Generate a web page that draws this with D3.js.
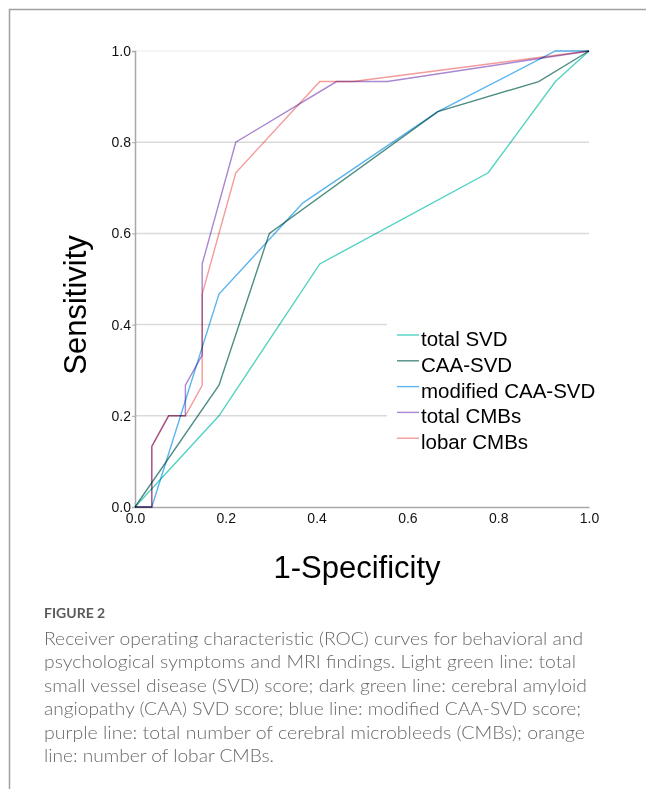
<!DOCTYPE html>
<html>
<head>
<meta charset="utf-8">
<script src="https://cdn.jsdelivr.net/npm/d3@7"></script>
<style>
  body { margin: 0; background: #fff; }
  svg { display: block; }
  .curve { mix-blend-mode: multiply; }
</style>
</head>
<body>
<div class="paint"></div>
<script>
// series names and colours, legend order
var seriesNames = ["total SVD", "CAA-SVD", "modified CAA-SVD", "total CMBs", "lobar CMBs"];
var seriesColors = ["#52d3c3", "#4f8e84", "#5bb5ee", "#a987d2", "#f59b9b"];

// ROC points: [1-specificity, sensitivity]
var totalSVD = [[0, 0], [0.185, 0.2], [0.407, 0.533], [0.778, 0.733], [0.926, 0.933], [1, 1]];
var caaSVD = [[0, 0], [0.185, 0.267], [0.296, 0.6], [0.667, 0.867], [0.889, 0.933], [1, 1]];
var modCaaSVD = [[0, 0], [0.037, 0], [0.185, 0.467], [0.37, 0.667], [0.667, 0.867], [0.926, 1], [1, 1]];
var totalCMBs = [[0, 0], [0.037, 0], [0.037, 0.133], [0.074, 0.2], [0.111, 0.2], [0.111, 0.267],
  [0.148, 0.333], [0.148, 0.533], [0.222, 0.8], [0.444, 0.933], [0.556, 0.933], [1, 1]];
var lobarCMBs = [[0, 0], [0.037, 0], [0.037, 0.133], [0.074, 0.2], [0.111, 0.2], [0.148, 0.267],
  [0.148, 0.467], [0.222, 0.733], [0.407, 0.933], [0.481, 0.933], [1, 1]];

var tickValues = [0, 0.2, 0.4, 0.6, 0.8, 1.0];
var gridValues = [0.2, 0.4, 0.6, 0.8, 1.0];

var captionTitle = "FIGURE 2";
var captionLines = [
  "Receiver operating characteristic (ROC) curves for behavioral and",
  "psychological symptoms and MRI findings. Light green line: total",
  "small vessel disease (SVD) score; dark green line: cerebral amyloid",
  "angiopathy (CAA) SVD score; blue line: modified CAA-SVD score;",
  "purple line: total number of cerebral microbleeds (CMBs); orange",
  "line: number of lobar CMBs."
];
var captionWidths = [539, 532, 543, 537, 541, 230];

var main;
(function (main) {
    function ini() {
        var allSeries = [totalSVD, caaSVD, modCaaSVD, totalCMBs, lobarCMBs];
        var svg = d3.select(".paint").append("svg")
            .attr("width", 646).attr("height", 789);

        // card frame (top and left edges)
        svg.append("path")
            .attr("d", "M9.5,789 L9.5,9.5 L646,9.5")
            .attr("fill", "none").attr("stroke", "#a0a0a0").attr("stroke-width", 1.5);

        var x = d3.scaleLinear().domain([0, 1]).range([135, 589]);
        var y = d3.scaleLinear().domain([0, 1]).range([507, 51]);

        // grid
        svg.append("g").selectAll("line").data(gridValues).enter().append("line")
            .attr("x1", x(0)).attr("x2", x(1))
            .attr("y1", d => y(d)).attr("y2", d => y(d))
            .attr("stroke", d => d === 1 ? "#f2f2f2" : "#dadada")
            .attr("stroke-width", 1.5);

        // axes
        var xAxis = svg.append("g").attr("transform", "translate(0," + y(0) + ")")
            .call(d3.axisBottom(x).tickValues(tickValues).tickFormat(d3.format(".1f")).tickSize(0).tickPadding(6));
        var yAxis = svg.append("g").attr("transform", "translate(" + x(0) + ",0)")
            .call(d3.axisLeft(y).tickValues(tickValues).tickFormat(d3.format(".1f")).tickSize(3).tickPadding(1));
        [xAxis, yAxis].forEach(function (a) {
            a.select(".domain").attr("stroke", "#a8a8a8").attr("stroke-width", 1.5);
            a.selectAll(".tick line").attr("stroke", "#a8a8a8");
            a.selectAll("text").attr("font-family", "Liberation Sans, Arial, sans-serif")
                .attr("font-size", 14).attr("fill", "#111");
        });

        // curves
        var line = d3.line().x(d => x(d[0])).y(d => y(d[1]));
        svg.append("g").selectAll("path").data(allSeries).enter().append("path")
            .attr("class", "curve")
            .attr("d", line)
            .attr("fill", "none")
            .attr("stroke", (d, i) => seriesColors[i])
            .attr("stroke-width", 1.4);

        // axis titles
        svg.append("text")
            .attr("x", 357).attr("y", 578)
            .attr("text-anchor", "middle")
            .attr("font-family", "Liberation Sans, Arial, sans-serif")
            .attr("font-size", 31).attr("fill", "#000")
            .text("1-Specificity");
        svg.append("text")
            .attr("transform", "translate(86,305) rotate(-90)")
            .attr("text-anchor", "middle")
            .attr("font-family", "Liberation Sans, Arial, sans-serif")
            .attr("font-size", 31).attr("fill", "#000")
            .text("Sensitivity");

        // legend
        var legend = svg.append("g");
        legend.append("rect")
            .attr("x", 387).attr("y", 318).attr("width", 225).attr("height", 136)
            .attr("fill", "#fff");
        var rows = legend.selectAll(".row").data(seriesNames).enter().append("g")
            .attr("transform", (d, i) => "translate(0," + (335 + i * 25.8) + ")");
        rows.append("line")
            .attr("x1", 397).attr("x2", 419).attr("y1", 0).attr("y2", 0)
            .attr("stroke", (d, i) => seriesColors[i]).attr("stroke-width", 1.4);
        rows.append("text")
            .attr("x", 421).attr("y", 11)
            .attr("font-family", "Liberation Sans, Arial, sans-serif")
            .attr("font-size", 20.5).attr("fill", "#000")
            .text(d => d);

        // caption
        svg.append("text")
            .attr("x", 44).attr("y", 618)
            .attr("font-family", "Lato, sans-serif").attr("font-weight", 700)
            .attr("font-size", 14).attr("fill", "#5a5a5a")
            .text(captionTitle);
        svg.append("g").selectAll("text").data(captionLines).enter().append("text")
            .attr("x", 44).attr("y", (d, i) => 645 + i * 23.4)
            .attr("font-family", "Lato, sans-serif").attr("font-weight", 300)
            .attr("font-size", 18).attr("fill", "#6a6a6a")
            .attr("textLength", (d, i) => captionWidths[i])
            .attr("lengthAdjust", "spacingAndGlyphs")
            .text(d => d);
    }
    main.ini = ini;
})(main || (main = {}));
main.ini();
</script>
</body>
</html>
